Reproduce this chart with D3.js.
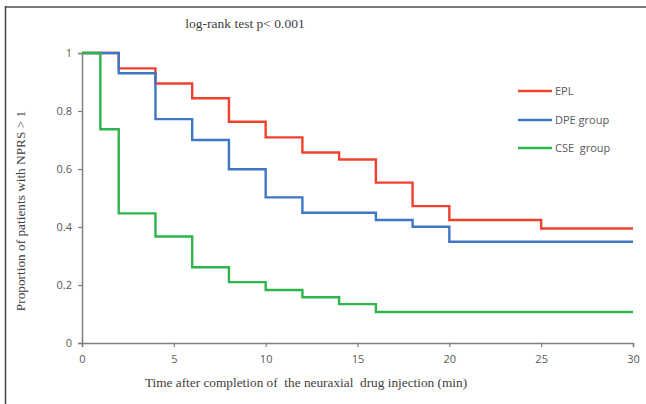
<!DOCTYPE html>
<html>
<head>
<meta charset="utf-8">
<script src="https://cdn.jsdelivr.net/npm/d3@7"></script>
<style>
  body { margin: 0; background: #fff; }
  svg { display: block; }
  .tick text { font-family: "Open Sans", "Liberation Sans", sans-serif; font-size: 11px; fill: #595959; }
  .serif { font-family: "Liberation Serif", "DejaVu Serif", serif; fill: #404040; }
  .legend text { font-family: "Open Sans", "Liberation Sans", sans-serif; font-size: 11px; fill: #595959; }
</style>
</head>
<body>
<svg width="646" height="404"></svg>
<script>
// step times (min) and survival proportions for each group
const eplTimes = [0, 2, 4, 6, 8, 10, 12, 14, 16, 18, 20, 25, 30];
const eplVals  = [1, 0.947, 0.895, 0.844, 0.763, 0.709, 0.657, 0.633, 0.553, 0.472, 0.424, 0.395, 0.395];

const dpeTimes = [0, 2, 4, 6, 8, 10, 12, 16, 18, 20, 30];
const dpeVals  = [1, 0.93, 0.772, 0.70, 0.599, 0.502, 0.449, 0.424, 0.401, 0.349, 0.349];

const cseTimes = [0, 1, 2, 4, 6, 8, 10, 12, 14, 16, 30];
const cseVals  = [1, 0.737, 0.447, 0.367, 0.261, 0.21, 0.183, 0.158, 0.134, 0.107, 0.107];

const groups = ["EPL", "DPE group", "CSE  group"];
const colors = ["#f0412f", "#3f77c6", "#2fb44c"];
const xTicks = [0, 5, 10, 15, 20, 25, 30];
const yTicks = [0, 0.2, 0.4, 0.6, 0.8, 1];

const svg = d3.select("svg");

// frame (top + left edge visible)
svg.append("line").attr("x1", 5).attr("x2", 646).attr("y1", 7).attr("y2", 7)
    .attr("stroke", "#7a7a7a").attr("stroke-width", 2);
svg.append("line").attr("x1", 5.5).attr("x2", 5.5).attr("y1", 6).attr("y2", 404)
    .attr("stroke", "#444").attr("stroke-width", 1.5);

const x = d3.scaleLinear().domain([0, 30]).range([82, 633]);
const y = d3.scaleLinear().domain([0, 1]).range([343, 53]);

const xAxis = svg.append("g")
    .attr("transform", "translate(0," + y(0) + ")")
    .call(d3.axisBottom(x).tickValues(xTicks).tickSize(4).tickPadding(8).tickFormat(d3.format("d")));
const yAxis = svg.append("g")
    .attr("transform", "translate(" + x(0) + ",0)")
    .call(d3.axisLeft(y).tickValues(yTicks).tickSize(4).tickPadding(6).tickFormat(d => d));

[xAxis, yAxis].forEach(function(a) {
    a.select(".domain").attr("stroke", "#7f7f7f").attr("stroke-width", 1.5);
    a.selectAll(".tick line").attr("stroke", "#7f7f7f").attr("stroke-width", 1.2);
});

const series = [
    { times: eplTimes, vals: eplVals },
    { times: dpeTimes, vals: dpeVals },
    { times: cseTimes, vals: cseVals }
];

const line = d3.line()
    .x(d => x(d[0]))
    .y(d => y(d[1]))
    .curve(d3.curveStepAfter);

// red first, then blue, green on top
series.forEach(function(s, i) {
    const pts = s.times.map((t, k) => [t, s.vals[k]]);
    svg.append("path")
        .datum(pts)
        .attr("d", line)
        .attr("fill", "none")
        .attr("stroke", colors[i])
        .attr("stroke-width", 2.4);
});

// legend
const legend = svg.append("g").attr("class", "legend");
const legY = [91, 120, 148];
groups.forEach(function(g, i) {
    legend.append("line")
        .attr("x1", 518).attr("x2", 552)
        .attr("y1", legY[i]).attr("y2", legY[i])
        .attr("stroke", colors[i]).attr("stroke-width", 2.4);
    legend.append("text")
        .attr("x", 555).attr("y", legY[i]).attr("dy", "0.35em")
        .style("white-space", "pre")
        .text(g);
});

// title
svg.append("text").attr("class", "serif")
    .attr("x", 245).attr("y", 28)
    .attr("text-anchor", "middle")
    .style("font-size", "13.5px")
    .text("log-rank test p< 0.001");

// axis titles
svg.append("text").attr("class", "serif")
    .attr("x", 306).attr("y", 387)
    .attr("text-anchor", "middle")
    .style("font-size", "13.3px")
    .style("white-space", "pre")
    .text("Time after completion of  the neuraxial  drug injection (min)");

svg.append("text").attr("class", "serif")
    .attr("transform", "translate(25,211) rotate(-90)")
    .attr("text-anchor", "middle")
    .style("font-size", "13.3px")
    .text("Proportion of patients with NPRS > 1");
</script>
</body>
</html>
